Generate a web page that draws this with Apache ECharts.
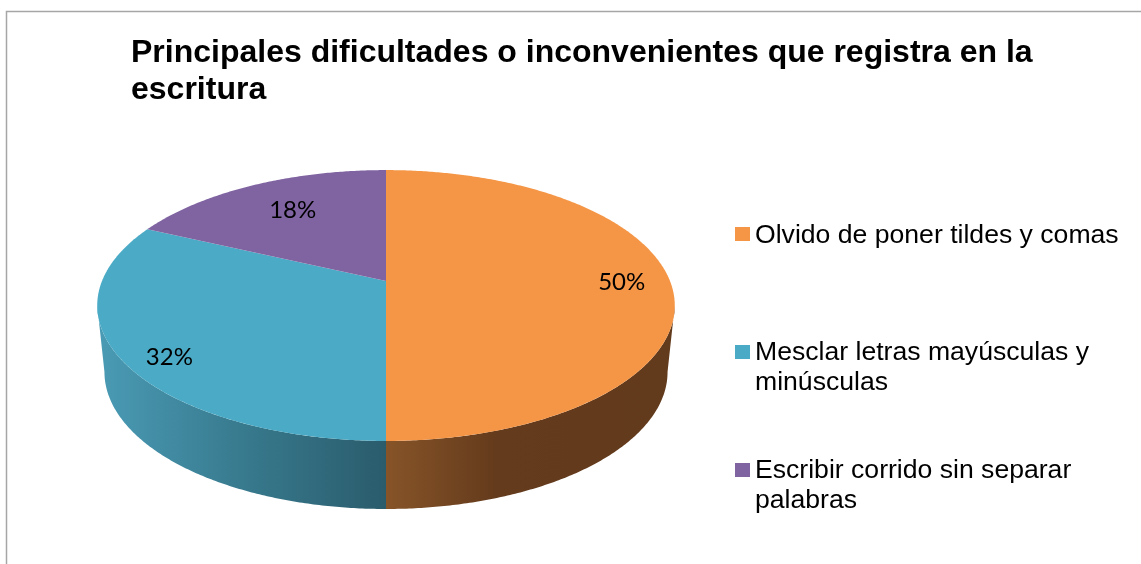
<!DOCTYPE html>
<html><head><meta charset="utf-8">
<style>html,body{margin:0;padding:0;background:#fff}#c{width:1141px;height:564px}</style>
<script src="https://cdn.jsdelivr.net/npm/echarts@6/dist/echarts.min.js"></script>
</head><body><div id="c"></div>
<script>
const categories = ['Olvido de poner tildes y comas', 'Mesclar letras mayúsculas y\nminúsculas', 'Escribir corrido sin separar\npalabras'];
const values = [50, 32, 18];
const colors = ['#F59646', '#4BABC6', '#8064A2'];
const wallStops = [
  [[0, '#875428'], [0.38, '#643B1C'], [1, '#623A1C']],
  [[0, '#4A9BB5'], [0.5, '#387A8E'], [1, '#2A5C6C']],
  null
];
const labelRadius = [0.83, 0.865, 0.71];
const labelShift = [0, -4.6, 1.5];
const legendTops = [221, 338, 456];
const titleText = 'Principales dificultades o inconvenientes que registra en la\nescritura';

// projective disc
const cx = 386, cy = 281, B = 284, A = 131, k = 0.181;
const topFace = { sx: 1, sy: 1, y0: cy };
const bottomFace = { sx: 0.975, sy: 1.0115, y0: 347.2 };
const labelFace = { sx: 1, sy: 1, y0: cy + 1 };
const sideAngle = 100.4;
const total = values.reduce((a, b) => a + b, 0);
function proj(deg, r, f) {
  const t = deg * Math.PI / 180, u = Math.sin(t) * r, v = -Math.cos(t) * r, d = 1 - k * v;
  return [cx + f.sx * B * u / d, f.y0 + f.sy * A * v / d];
}
function arc(a, b, f) {
  const n = Math.max(2, Math.ceil(Math.abs(b - a) * 2)), pts = [];
  for (let i = 0; i <= n; i++) pts.push(proj(a + (b - a) * i / n, 1, f));
  return pts;
}
function makeRender(idx) {
  return function (params, api) {
    const v = api.value(0);
    const before = values.slice(0, idx).reduce((a, b) => a + b, 0);
    const a0 = before / total * 360, a1 = (before + v) / total * 360;
    const children = [];
    const w0 = Math.max(a0, sideAngle), w1 = Math.min(a1, 360 - sideAngle);
    if (w1 > w0 && wallStops[idx]) {
      children.push({
        type: 'polygon', silent: true,
        shape: { points: arc(w0, w1, topFace).concat(arc(w1, w0, bottomFace)) },
        style: { fill: { type: 'linear', x: 0, y: 0, x2: 1, y2: 0, colorStops: wallStops[idx].map(s => ({ offset: s[0], color: s[1] })) } }
      });
    }
    children.push({
      type: 'polygon', silent: true,
      shape: { points: [[cx, cy]].concat(arc(a0, a1, topFace)) },
      style: { fill: colors[idx] }
    });
    const p = proj((a0 + a1) / 2 + labelShift[idx], labelRadius[idx], labelFace);
    children.push({
      type: 'text', silent: true, z2: 10,
      style: { x: p[0], y: p[1], text: v + '%', fill: '#000', font: '24px Lato, "Open Sans", sans-serif', align: 'center', verticalAlign: 'middle' }
    });
    return { type: 'group', children };
  };
}
const oneLineIcon = 'path://M0 6H14V20H0Z M0 0L0 0 M0 30L0 30';
const twoLineIcon = 'path://M0 7H14V21H0Z M0 0L0 0 M0 60L0 60';
const chart = echarts.init(document.getElementById('c'), null, { renderer: 'canvas' });
chart.setOption({
  animation: false,
  backgroundColor: '#fff',
  title: {
    text: titleText, left: 131, top: 35, padding: 0,
    textStyle: { fontFamily: '"Liberation Sans", Arial, sans-serif', fontWeight: 'bold', fontSize: 32, lineHeight: 37, color: '#000' }
  },
  legend: categories.map((name, i) => ({
    left: 735, top: legendTops[i], padding: 0, orient: 'vertical', selectedMode: false,
    symbolKeepAspect: false,
    itemWidth: 15, itemHeight: name.includes('\n') ? 60 : 30,
    data: [{ name, icon: name.includes('\n') ? twoLineIcon : oneLineIcon }],
    textStyle: { fontFamily: '"Liberation Sans", Arial, sans-serif', fontSize: 26.6, lineHeight: 30, color: '#000' }
  })),
  graphic: [
    { type: 'polyline', silent: true, shape: { points: [[1141, 11.5], [6.5, 11.5], [6.5, 564]] }, style: { stroke: '#a6a6a6', lineWidth: 1.5, fill: 'none' } }
  ],
  series: categories.map((name, i) => ({
    type: 'custom', name, coordinateSystem: 'none', silent: true,
    itemStyle: { color: colors[i] },
    data: [[values[i]]],
    encode: { value: 0 },
    renderItem: makeRender(i)
  }))
});
</script></body></html>
